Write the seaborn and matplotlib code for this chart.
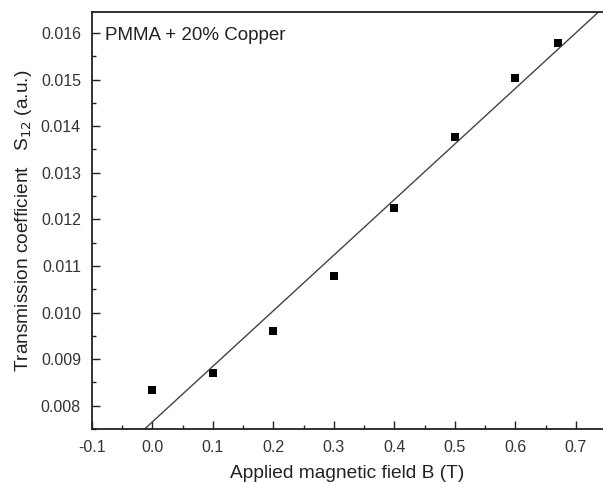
import numpy as np
import pandas as pd
import matplotlib
matplotlib.use("Agg")
import matplotlib.pyplot as plt
from matplotlib.ticker import MultipleLocator, FormatStrFormatter
import seaborn as sns

# data
field_T = [0.0, 0.1, 0.2, 0.3, 0.4, 0.5, 0.6, 0.67]
s12 = [0.00833, 0.00871, 0.00961, 0.01078, 0.01225, 0.01377, 0.01504, 0.01578]

df = pd.DataFrame({"B": field_T, "S12": s12})

sns.set_style("ticks")
plt.rcParams["font.family"] = ["Liberation Sans", "DejaVu Sans"]
plt.rcParams["xtick.direction"] = "in"
plt.rcParams["ytick.direction"] = "in"

fig = plt.figure(figsize=(6.03, 4.82), dpi=100)
ax = fig.add_axes([0.1526, 0.110, 0.8474, 0.865])

ax.set_xlim(-0.1, 0.745)
ax.set_ylim(0.0075, 0.01645)

# linear fit across the full x range, plus the measured points
sns.regplot(data=df, x="B", y="S12", ax=ax, ci=None, truncate=False,
            marker="s", color="black",
            scatter_kws=dict(s=36, linewidths=0, alpha=1),
            line_kws=dict(color="#444444", lw=1.0))

ax.xaxis.set_major_locator(MultipleLocator(0.1))
ax.xaxis.set_minor_locator(MultipleLocator(0.05))
ax.yaxis.set_major_locator(MultipleLocator(0.001))
ax.yaxis.set_minor_locator(MultipleLocator(0.0005))
ax.xaxis.set_major_formatter(FormatStrFormatter("%.1f"))
ax.yaxis.set_major_formatter(FormatStrFormatter("%.3f"))

ax.tick_params(which="major", length=6, width=1.0, color="#222222",
               labelsize=11.5, labelcolor="#333333")
ax.tick_params(axis="x", which="major", pad=8)
ax.tick_params(axis="y", which="major", pad=8)
ax.tick_params(which="minor", length=3, width=1.0, color="#222222")
ax.tick_params(top=False, right=False, which="both")

for side in ["left", "bottom", "top"]:
    ax.spines[side].set_linewidth(1.3)
    ax.spines[side].set_color("#222222")
ax.spines["right"].set_visible(False)

ax.set_xlabel("Applied magnetic field B (T)", fontsize=13.8, color="#222222", labelpad=7)
ax.set_ylabel("Transmission coefficient   S$_{12}$ (a.u.)", fontsize=13.8,
              color="#222222", labelpad=5)

ax.text(0.025, 0.965, "PMMA + 20% Copper", transform=ax.transAxes,
        fontsize=13.5, color="#222222", va="top", ha="left")

fig.savefig("out.png", dpi=100)
